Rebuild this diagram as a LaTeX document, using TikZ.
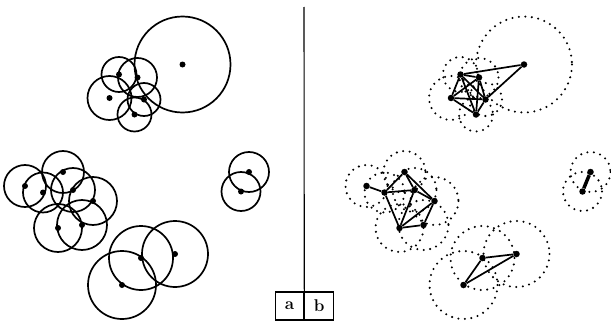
\documentclass[tikz,border=0pt]{standalone}
\begin{document}
\begin{tikzpicture}[x=1pt,y=-1pt,
  pt/.style={circle,fill=black,inner sep=0pt,minimum size=6pt},
  ptR/.style={circle,fill=black,inner sep=0pt,minimum size=6.5pt},
  ring/.style={line width=1.7pt},
  dotring/.style={line width=2.3pt,line cap=round,dash pattern=on 0pt off 6.5pt},
  edge/.style={line width=1.7pt},
  lbox/.style={draw,line width=1.1pt,minimum width=28.5pt,minimum height=28pt,inner sep=0pt,font=\fontsize{17}{17}\selectfont\bfseries}]
\useasboundingbox (0,0) rectangle (611,324);
\foreach \n/\x/\y/\r in {1/182.5/64.5/48, 2/119/74.5/17.5, 3/137.5/77.5/19.5, 4/109.5/98/22,
  5/144/99.5/16.5, 6/134.5/114.5/17,
  7/25/186/21, 8/43/192.5/20, 9/63/172/21, 10/73/190/22, 11/93/201/24, 12/58/228/24, 13/82/225/25,
  14/141/258/32, 15/175/254/33, 16/122/285/34,
  17/249/172/20, 18/241/191.5/19.5}{
  \draw[ring] (\x,\y) circle[radius=\r];
  \node[pt] (l\n) at (\x,\y) {};
  \draw[dotring] (\x+341.5,\y) circle[radius=\r];
  \node[ptR] (r\n) at (\x+341.5,\y) {};
}
% right panel edges
\foreach \a/\b in {r1/r2, r1/r5, r2/r3, r2/r4, r2/r5, r2/r6, r3/r4, r3/r5, r3/r6, r4/r5, r4/r6, r5/r6,
  r7/r8, r8/r9, r9/r10, r8/r10, r10/r11, r9/r11, r8/r12, r12/r13, r12/r10, r12/r11, r13/r11,
  r14/r15, r15/r16, r14/r16}
  \draw[edge] (\a) -- (\b);
\draw[line width=3.5pt] (r17) -- (r18);
% divider and labels
\node[lbox] (a) at (289.5,306) {a};
\node[lbox,anchor=west] (b) at (a.east) {b};
\coordinate (top) at (304,7);
\draw[line width=1.1pt] (top) -- (a.north east);
\end{tikzpicture}
\end{document}
